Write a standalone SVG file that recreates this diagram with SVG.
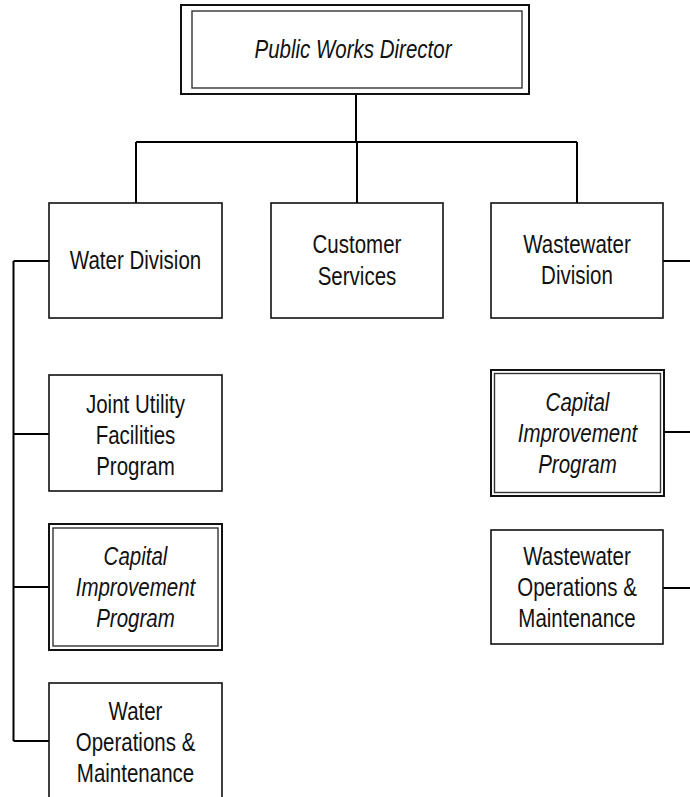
<svg xmlns="http://www.w3.org/2000/svg" width="690" height="797" viewBox="0 0 690 797">
<style>
.box{fill:#fff;stroke:#111;stroke-width:1.6}
.outer{fill:#fff;stroke:#111;stroke-width:2}
.inner{fill:none;stroke:#333;stroke-width:1.4}
.conn{fill:none;stroke:#000;stroke-width:2}
text{font-family:"Liberation Sans",Arial,sans-serif;font-size:25px;fill:#111;text-anchor:middle}
.it{font-style:italic}
</style>
<rect width="690" height="797" fill="#fff"/>
<g id="connectors">
<path class="conn" d="M356 94V142M136 142H577M136 142V203M357 142V203M577 142V203"/>
<path class="conn" d="M13.5 261V741M13.5 261H49M13.5 434H49M13.5 587H49M13.5 741H49"/>
<path class="conn" d="M663 261H690M664 432H690M663 588H690"/>
</g>
<g id="director">
<rect class="outer" x="181" y="5" width="348" height="89"/>
<rect class="inner" x="192" y="11" width="330" height="77"/>
<text class="it" transform="translate(353 0) scale(0.82 1)" x="0" y="58">Public Works Director</text>
</g>
<g id="water-division">
<rect class="box" x="49" y="203" width="173" height="115"/>
<text transform="translate(135.5 0) scale(0.82 1)" x="0" y="269">Water Division</text>
</g>
<g id="customer-services">
<rect class="box" x="271" y="203" width="172" height="115"/>
<g transform="translate(357 0) scale(0.82 1)">
<text x="0" y="253">Customer</text>
<text x="0" y="285">Services</text>
</g>
</g>
<g id="wastewater-division">
<rect class="box" x="491" y="203" width="172" height="115"/>
<g transform="translate(577 0) scale(0.82 1)">
<text x="0" y="253">Wastewater</text>
<text x="0" y="284">Division</text>
</g>
</g>
<g id="joint-utility">
<rect class="box" x="49" y="375" width="173" height="116"/>
<g transform="translate(135.5 0) scale(0.82 1)">
<text x="0" y="413">Joint Utility</text>
<text x="0" y="444">Facilities</text>
<text x="0" y="475">Program</text>
</g>
</g>
<g id="water-cip">
<rect class="outer" x="49" y="524" width="173" height="126"/>
<rect class="inner" x="53" y="528" width="165" height="118"/>
<g transform="translate(135.5 0) scale(0.82 1)">
<text class="it" x="0" y="565">Capital</text>
<text class="it" x="0" y="596">Improvement</text>
<text class="it" x="0" y="627">Program</text>
</g>
</g>
<g id="water-ops">
<rect class="box" x="49" y="683" width="173" height="116"/>
<g transform="translate(135.5 0) scale(0.82 1)">
<text x="0" y="720">Water</text>
<text x="0" y="751">Operations &amp;</text>
<text x="0" y="782">Maintenance</text>
</g>
</g>
<g id="wastewater-cip">
<rect class="outer" x="491" y="370" width="173" height="126"/>
<rect class="inner" x="494.5" y="373.5" width="166" height="119"/>
<g transform="translate(577.5 0) scale(0.82 1)">
<text class="it" x="0" y="411">Capital</text>
<text class="it" x="0" y="442">Improvement</text>
<text class="it" x="0" y="473">Program</text>
</g>
</g>
<g id="wastewater-ops">
<rect class="box" x="491" y="530" width="172" height="114"/>
<g transform="translate(577 0) scale(0.82 1)">
<text x="0" y="565">Wastewater</text>
<text x="0" y="596">Operations &amp;</text>
<text x="0" y="627">Maintenance</text>
</g>
</g>
</svg>
